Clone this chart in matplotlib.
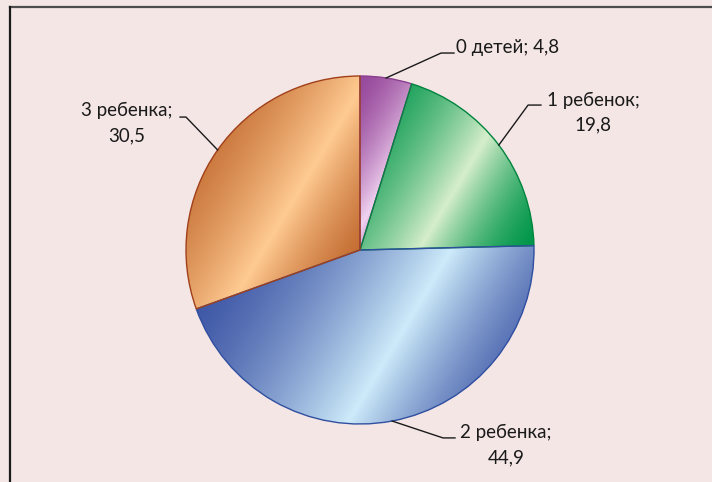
import numpy as np
import matplotlib
matplotlib.use('Agg')
import matplotlib.pyplot as plt
from matplotlib.colors import to_rgb
from matplotlib.lines import Line2D

# data
categories = ['0 детей', '1 ребенок', '2 ребенка', '3 ребенка']
values = [4.8, 19.8, 44.9, 30.5]
value_labels = ['4,8', '19,8', '44,9', '30,5']

# colours: (dark, light) for each slice gradient, plus outline
dark_cols = ['#984A9C', '#00964A', '#3850A2', '#BC6025']
light_cols = ['#F0D2F0', '#D6EECB', '#CDEBFA', '#FFCB92']
edge_cols = ['#8A3E8E', '#00843E', '#2F4FA0', '#A0401A']

# label layout (data units, pie radius = 1)
label_pos = [(0.552, 1.161), (1.339, 0.790), (0.839, -1.121), (-1.339, 0.730)]
label_ha = ['left', 'center', 'center', 'center']
elbow = [(0.466, 1.132), (0.966, 0.833), (0.477, -1.080), (-1.0, 0.764)]
elbow_end = [0.540, 1.040, 0.546, -1.034]
label_text = ['%s; %s' % (categories[0], value_labels[0])] + \
    ['%s;\n%s' % (c, v) for c, v in zip(categories[1:], value_labels[1:])]

plt.rcParams['font.family'] = ['Lato', 'Roboto', 'DejaVu Sans']

bg = '#F5E6E6'
fig = plt.figure(figsize=(7.12, 4.82), dpi=100, facecolor=bg)
ax = fig.add_axes([0, 0, 1, 1])
ax.set_facecolor(bg)

wedges, _ = ax.pie(values, startangle=90, counterclock=False, radius=1,
                   center=(0, 0), frame=True,
                   wedgeprops=dict(facecolor='none', linewidth=1.0))
ax.set_xlim(-360 / 174, 352 / 174)
ax.set_ylim(-232 / 174, 250 / 174)
ax.set_aspect('equal')
ax.axis('off')

# gradient fill per slice, band tilted ~59 deg
ang = np.deg2rad(59)
nx, ny = np.sin(ang), -np.cos(ang)
for i, w in enumerate(wedges):
    w.set_edgecolor(edge_cols[i])
    w.set_zorder(3)
    ext = w.get_path().get_extents()
    x0, y0, x1, y1 = ext.x0, ext.y0, ext.x1, ext.y1
    xs = np.linspace(x0, x1, 300)
    ys = np.linspace(y0, y1, 300)
    X, Y = np.meshgrid(xs, ys)
    P = X * nx + Y * ny
    corners = [x * nx + y * ny for x in (x0, x1) for y in (y0, y1)]
    t = (P - min(corners)) / (max(corners) - min(corners))
    d = np.array(to_rgb(dark_cols[i]))
    l = np.array(to_rgb(light_cols[i]))
    peak = 0.58
    f = np.where(t < peak, t / peak, (1 - t) / (1 - peak))
    f = np.clip(f, 0, 1) ** 1.6
    f = f[..., None]
    img = d * (1 - f) + l * f
    im = ax.imshow(img, extent=(x0, x1, y0, y1), origin='lower',
                   interpolation='bilinear', zorder=2)
    im.set_clip_path(w)

# leader lines and labels
for i, w in enumerate(wedges):
    mid = np.deg2rad((w.theta1 + w.theta2) / 2)
    sx, sy = np.cos(mid), np.sin(mid)
    ex, ey = elbow[i]
    ax.plot([sx, ex, elbow_end[i]], [sy, ey, ey], color='#1A1A1A', lw=1.0, zorder=4)
    ax.text(label_pos[i][0], label_pos[i][1], label_text[i], ha=label_ha[i],
            va='center', fontsize=13.5, linespacing=1.55, color='#1A1A1A', zorder=5)

# partial outer frame
fig.add_artist(Line2D([10 / 712, 1], [1 - 7 / 482, 1 - 7 / 482], color='#4D4D4D', lw=1.6,
                      transform=fig.transFigure))
fig.add_artist(Line2D([10 / 712, 10 / 712], [0, 1 - 7 / 482], color='#1A1A1A', lw=1.6,
                      transform=fig.transFigure))

fig.savefig('out.png', dpi=100, facecolor=bg)
